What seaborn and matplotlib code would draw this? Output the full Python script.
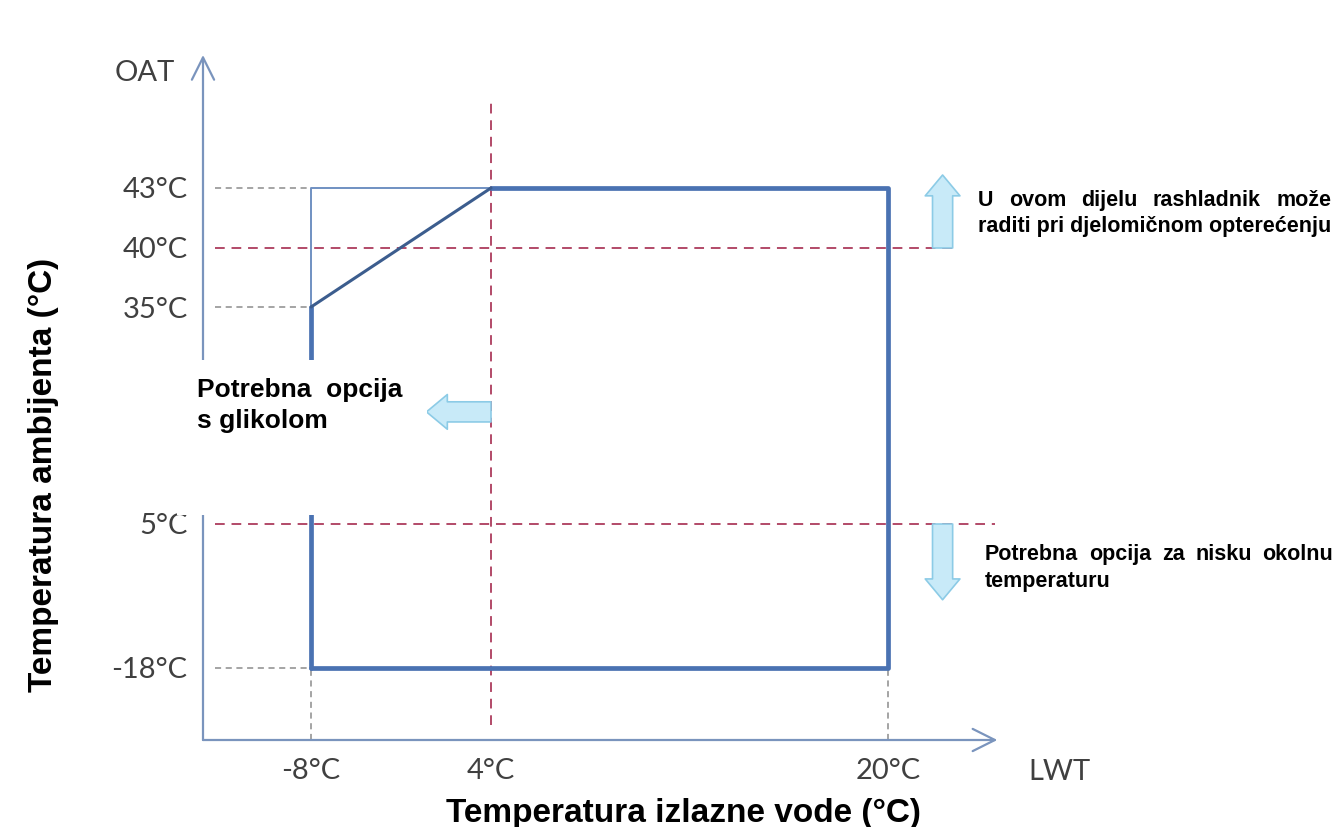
import numpy as np
import pandas as pd
import matplotlib
matplotlib.use("Agg")
import matplotlib.pyplot as plt
from matplotlib.patches import Rectangle
import seaborn as sns

# Tick values / labels
lwt_ticks = [-8, 4, 20]
lwt_labels = ["-8°C", "4°C", "20°C"]
oat_ticks = [-18, 5, 35, 40, 43]
oat_labels = ["-18°C", "5°C", "35°C", "40°C", "43°C"]

# Operating envelope (LWT, OAT)
env_left_lwt = [-8, -8]
env_left_oat = [-18, 35]
env_main_lwt = [4, 20, 20, -8]
env_main_oat = [43, 43, -18, -18]
ramp_lwt = [-8, 4]
ramp_oat = [35, 43]
glycol_lwt = [-8, -8, 4]
glycol_oat = [35, 43, 43]

# Limits marked with red dashed lines
limit_oat = [40, 5]
limit_lwt = 4

# The original axes are not linear: ticks sit at these pixel positions
X_PX = [311, 491, 888]
Y_PX = [-668, -524, -307, -248, -188]

W, H = 1340, 827


def piecewise(xs, ys):
    xs = np.asarray(xs, float)
    ys = np.asarray(ys, float)
    lo = (ys[1] - ys[0]) / (xs[1] - xs[0])
    hi = (ys[-1] - ys[-2]) / (xs[-1] - xs[-2])

    def f(v):
        v = np.asarray(v, float)
        out = np.interp(v, xs, ys)
        out = np.where(v < xs[0], ys[0] + (v - xs[0]) * lo, out)
        out = np.where(v > xs[-1], ys[-1] + (v - xs[-1]) * hi, out)
        return out
    return f


xfwd, xinv = piecewise(lwt_ticks, X_PX), piecewise(X_PX, lwt_ticks)
yfwd, yinv = piecewise(oat_ticks, Y_PX), piecewise(Y_PX, oat_ticks)

sns.set_theme(style="white")
plt.rcParams["font.family"] = ["Lato", "DejaVu Sans"]

fig = plt.figure(figsize=(W / 100, H / 100), dpi=100)
ax = fig.add_axes([203 / W, 1 - 740 / H, 792 / W, 685 / H])

thick = "#4a72b2"
# envelope
sns.lineplot(x=env_left_lwt, y=env_left_oat, ax=ax, color=thick, linewidth=3.4,
             sort=False, estimator=None, zorder=4)
sns.lineplot(x=env_main_lwt, y=env_main_oat, ax=ax, color=thick, linewidth=3.4,
             sort=False, estimator=None, zorder=4)
sns.lineplot(x=ramp_lwt, y=ramp_oat, ax=ax, color="#3c5d8e", linewidth=2.2,
             sort=False, estimator=None, zorder=4)
sns.lineplot(x=glycol_lwt, y=glycol_oat, ax=ax, color="#7090c2", linewidth=1.4,
             sort=False, estimator=None, zorder=3)

ax.set_xscale("function", functions=(xfwd, xinv))
ax.set_yscale("function", functions=(yfwd, yinv))
ax.set_xlim(float(xinv(203)), float(xinv(995)))
ax.set_ylim(float(yinv(-740)), float(yinv(-55)))

# grey helper lines
x_start = float(xinv(215))
ax.hlines([43, 35, -18], x_start, -8, colors="#8c8c8c", linewidth=1.1,
          linestyles=(0, (4, 3)), zorder=2)
ax.vlines([-8, 20], ax.get_ylim()[0], -18, colors="#8c8c8c", linewidth=1.1,
          linestyles=(0, (4, 3)), zorder=2)

# red dashed limits
red = "#b24a68"
ax.axhline(limit_oat[0], xmin=0.015, xmax=0.953, color=red, linewidth=1.4,
           linestyle=(0, (5, 3.5)), zorder=2)
ax.axhline(limit_oat[1], xmin=0.015, xmax=1.0, color=red, linewidth=1.4,
           linestyle=(0, (5, 3.5)), zorder=2)
ax.axvline(limit_lwt, ymin=0.022, ymax=0.93, color=red, linewidth=1.4,
           linestyle=(0, (5, 3.5)), zorder=2)

# axes drawn as arrows
for s in ax.spines.values():
    s.set_visible(False)
axis_col = "#7a94bd"
ax.annotate("", xy=(0, 1), xytext=(0, 0), xycoords="axes fraction",
            arrowprops=dict(arrowstyle="->,head_length=0.8,head_width=0.4",
                            color=axis_col, lw=1.6, shrinkA=0, shrinkB=0,
                            mutation_scale=20))
ax.annotate("", xy=(1.003, 0), xytext=(0, 0), xycoords="axes fraction",
            arrowprops=dict(arrowstyle="->,head_length=0.8,head_width=0.4",
                            color=axis_col, lw=1.6, shrinkA=0, shrinkB=0,
                            mutation_scale=20))

# block arrows
block = dict(arrowstyle="simple,head_length=1.5,head_width=2.5,tail_width=1.45",
             fc="#c8eaf8", ec="#8ccbe6", lw=1.2, shrinkA=0, shrinkB=0,
             mutation_scale=10)
ax.annotate("", xy=(22.2, 43.65), xytext=(22.2, 40), arrowprops=block,
            annotation_clip=False)
ax.annotate("", xy=(22.2, -7.1), xytext=(22.2, 5), arrowprops=block,
            annotation_clip=False)
ax.annotate("", xy=(-0.3, 20.5), xytext=(4, 20.5), arrowprops=block,
            annotation_clip=False)

ax.set_xticks(lwt_ticks, lwt_labels)
ax.set_yticks(oat_ticks, oat_labels)
ax.minorticks_off()
ax.tick_params(axis="x", length=0, pad=13, labelsize=21, labelcolor="#404040")
ax.tick_params(axis="y", length=0, pad=11, labelsize=21, labelcolor="#404040")
ax.set_xlabel("")
ax.set_ylabel("")

fig.text(145 / W, 1 - 73 / H, "OAT", ha="center", va="center", fontsize=21,
         color="#404040")
fig.text(1059 / W, 1 - 772 / H, "LWT", ha="center", va="center", fontsize=21,
         color="#404040")

# white box hiding part of the plot behind the glycol note
fig.add_artist(Rectangle((177 / W, 1 - 515 / H), 250 / W, 155 / H,
                         transform=fig.transFigure, fc="white", ec="none",
                         zorder=1))

bold = dict(fontfamily="Liberation Sans", fontweight="bold", color="black",
            va="baseline")
fig.text(683 / W, 1 - 822 / H, "Temperatura izlazne vode (°C)", ha="center",
         fontsize=24, **bold)
fig.text(52 / W, 1 - 475 / H, "Temperatura ambijenta (°C)", ha="center",
         rotation=90, rotation_mode="anchor", fontsize=24, **bold)

renderer = fig.canvas.get_renderer()


def justified(words, x0, x1, y, **kw):
    arts = [fig.text(x0 / W, 1 - y / H, w, **kw) for w in words]
    widths = [a.get_window_extent(renderer).width for a in arts]
    gap = ((x1 - x0) - sum(widths)) / (len(words) - 1)
    x = x0
    for a, w in zip(arts, widths):
        a.set_x(x / W)
        x += w + gap


line2 = fig.text(978 / W, 1 - 232 / H, "raditi pri djelomičnom opterećenju",
                 fontsize=15.5, **bold)
x_end = 978 + line2.get_window_extent(renderer).width
justified("U ovom dijelu rashladnik može".split(), 978, x_end, 206,
          fontsize=15.5, **bold)

justified("Potrebna opcija za nisku okolnu".split(), 985, 1333, 560,
          fontsize=15.5, **bold)
fig.text(985 / W, 1 - 587 / H, "temperaturu", fontsize=15.5, **bold)

fig.text(197 / W, 1 - 397 / H, "Potrebna  opcija", fontsize=19, **bold)
fig.text(197 / W, 1 - 428 / H, "s glikolom", fontsize=19, **bold)

fig.savefig("out.png", dpi=100)
